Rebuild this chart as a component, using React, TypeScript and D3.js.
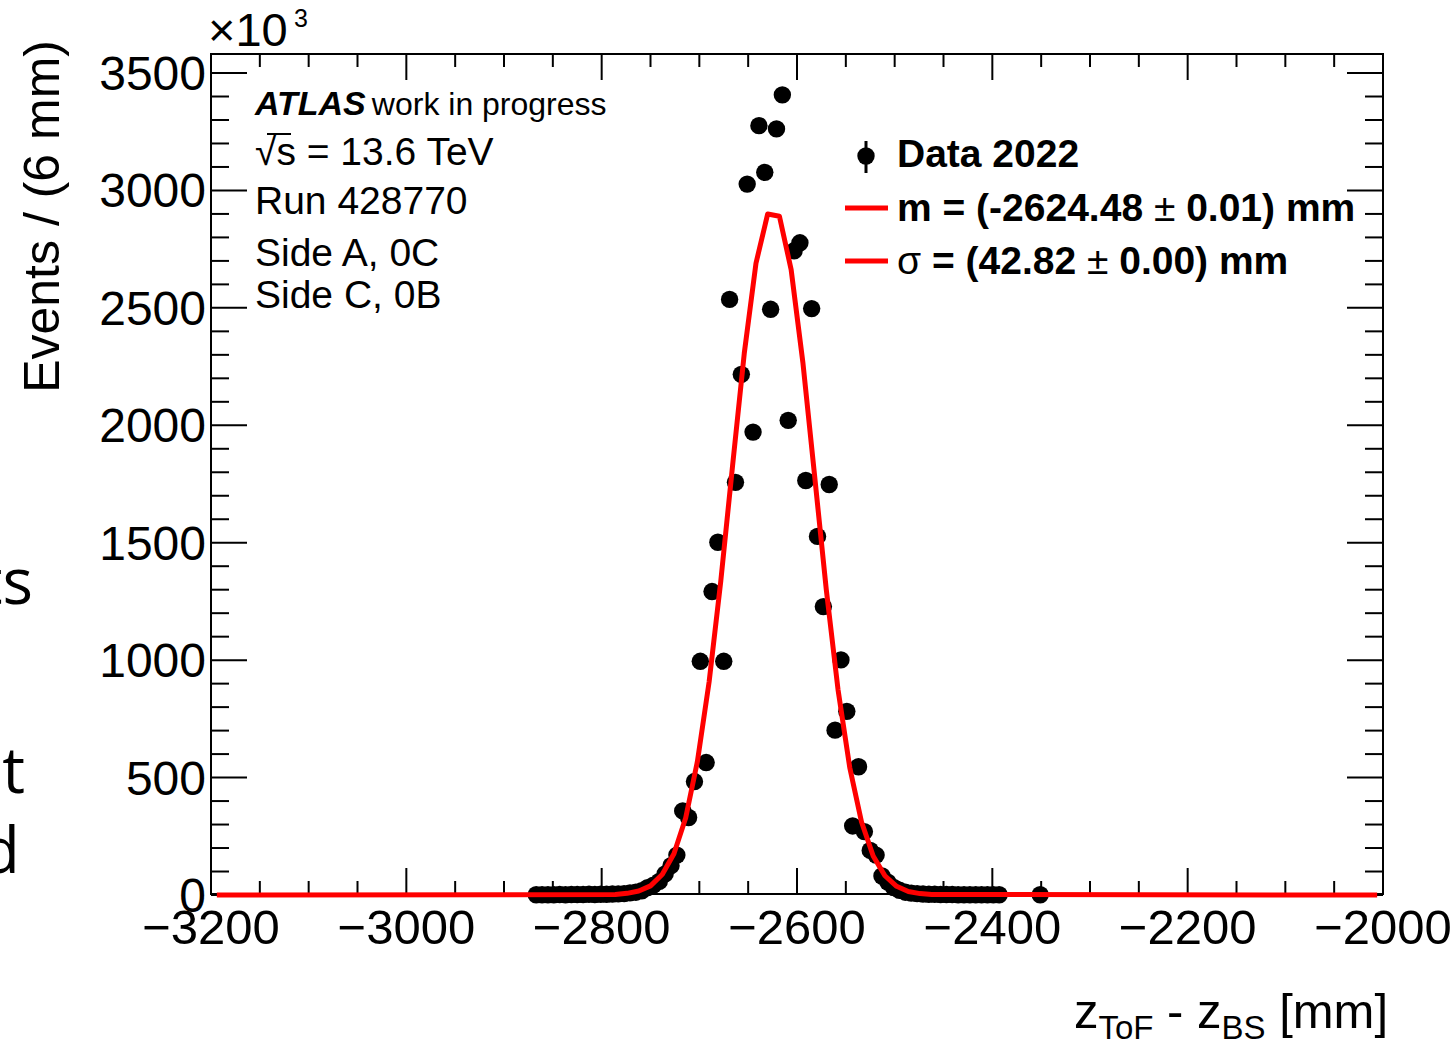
import React from "react";
import * as d3 from "d3";

// ---- data (counts in units of 10^3, 6 mm bins) ----
const binStart = -2867; // centre of first drawn bin
const binWidth = 6;
const counts = [
  1, 1, 1, 1, 2, 1, 2, 2, 2, 3,
  2, 3, 3, 4, 5, 6, 9, 12, 18, 31,
  42, 58, 90, 125, 170, 358, 330, 483, 995, 564,
  1292, 1502, 995, 2536, 1757, 2217, 3027, 1971, 3276, 3077,
  2494, 3262, 3407, 2021, 2743, 2777, 1765, 2497, 1527, 1228,
  1748, 702, 1001, 782, 294, 546, 270, 190, 170, 81,
  55, 32, 20, 12, 8, 6, 4, 3, 3, 2,
  2, 2, 1, 1, 1, 1, 1, 1, 1, 1,
];
const extraX = [-2351];
const extraY = [1];

// fit curve vertices
const fitX = [-3194, -2786, -2774, -2762, -2750, -2738, -2726, -2714, -2702, -2690, -2678, -2666, -2654, -2642, -2630,
  -2618, -2606, -2594, -2582, -2570, -2558, -2546, -2534, -2522, -2510, -2498, -2486, -2474, -2462, -2006];
const fitY = [0, 2, 7, 17, 39, 87, 176, 328, 568, 907, 1338, 1827, 2306, 2690, 2900,
  2890, 2663, 2268, 1786, 1300, 875, 543, 312, 166, 82, 37, 15, 6, 2, 0];

const xTicksMajor = [-3200, -3000, -2800, -2600, -2400, -2200, -2000];
const xTickLabels = ["\u22123200", "\u22123000", "\u22122800", "\u22122600", "\u22122400", "\u22122200", "\u22122000"];
const yTicksMajor = [0, 500, 1000, 1500, 2000, 2500, 3000, 3500];
const yTickLabels = ["0", "500", "1000", "1500", "2000", "2500", "3000", "3500"];

const W = 1455, H = 1041;
const FL = 211, FR = 1383, FT = 54, FB = 894;
const FONT = "'Liberation Sans', Arial, Helvetica, sans-serif";

export default function App() {
  const x = d3.scaleLinear().domain([-3200, -2000]).range([FL, FR]);
  const y = d3.scaleLinear().domain([0, 3581]).range([895, FT]);

  const points = counts.map((c, i) => ({ x: binStart + i * binWidth, y: c }))
    .concat(extraX.map((v, i) => ({ x: v, y: extraY[i] })));

  const line = d3.line<number>().x((d, i) => x(fitX[i])).y((d) => y(d));
  const fitPath = line(fitY) || "";

  const xMinor = d3.range(-3200, -2000 + 1, 50).filter((v) => !xTicksMajor.includes(v));
  const yMinor = d3.range(0, 3581, 100).filter((v) => v % 500 !== 0);

  const sk = "#000";
  return (
    <svg width={W} height={H} style={{ position: "absolute", left: 0, top: 0, background: "#fff" }}
      fontFamily={FONT}>
      <rect x={0} y={0} width={W} height={H} fill="#fff" />
      {/* slide text fragments at the left */}
      <g fontFamily="'Open Sans', 'Noto Sans', sans-serif" fontSize={64} fill="#000" textAnchor="end">
        <text x={33} y={604}>ts</text>
        <text x={25} y={793}>t</text>
        <text x={20} y={873}>d</text>
      </g>

      {/* frame */}
      <rect x={FL} y={FT} width={FR - FL} height={FB - FT} fill="none" stroke={sk} strokeWidth={2} />

      {/* x ticks bottom & top */}
      {xTicksMajor.map((v) => (
        <g key={"xm" + v}>
          <line x1={x(v)} x2={x(v)} y1={FB} y2={FB - 26} stroke={sk} strokeWidth={2} />
          <line x1={x(v)} x2={x(v)} y1={FT} y2={FT + 26} stroke={sk} strokeWidth={2} />
        </g>
      ))}
      {xMinor.map((v) => (
        <g key={"xn" + v}>
          <line x1={x(v)} x2={x(v)} y1={FB} y2={FB - 13} stroke={sk} strokeWidth={2} />
          <line x1={x(v)} x2={x(v)} y1={FT} y2={FT + 13} stroke={sk} strokeWidth={2} />
        </g>
      ))}
      {/* y ticks left & right */}
      {yTicksMajor.map((v) => (
        <g key={"ym" + v}>
          <line x1={FL} x2={FL + 36} y1={y(v)} y2={y(v)} stroke={sk} strokeWidth={2} />
          <line x1={FR} x2={FR - 36} y1={y(v)} y2={y(v)} stroke={sk} strokeWidth={2} />
        </g>
      ))}
      {yMinor.map((v) => (
        <g key={"yn" + v}>
          <line x1={FL} x2={FL + 18} y1={y(v)} y2={y(v)} stroke={sk} strokeWidth={2} />
          <line x1={FR} x2={FR - 18} y1={y(v)} y2={y(v)} stroke={sk} strokeWidth={2} />
        </g>
      ))}

      {/* tick labels */}
      {xTicksMajor.map((v, i) => (
        <text key={"xl" + v} x={x(v)} y={944} fontSize={49} textAnchor="middle" fill="#000">{xTickLabels[i]}</text>
      ))}
      {yTicksMajor.map((v, i) => (
        <text key={"yl" + v} x={206} y={y(v) + 17} fontSize={48} textAnchor="end" fill="#000">{yTickLabels[i]}</text>
      ))}
      <text x={208} y={46} fontSize={47} fill="#000">{"\u00d710"}</text>
      <text x={294} y={27} fontSize={25} fill="#000">3</text>

      {/* axis titles */}
      <text transform="translate(59,40) rotate(-90)" fontSize={50} textAnchor="end" fill="#000">Events / (6 mm)</text>
      <text x={1388} y={1028} fontSize={49} textAnchor="end" fill="#000">
        z<tspan fontSize={33} dy={11}>ToF</tspan><tspan dy={-11}> - z</tspan><tspan fontSize={33} dy={11}>BS</tspan><tspan dy={-11}> [mm]</tspan>
      </text>

      {/* data points */}
      {points.map((p, i) => (
        <circle key={"p" + i} cx={x(p.x)} cy={y(p.y)} r={8.7} fill="#000" />
      ))}

      {/* fit */}
      <path d={fitPath} fill="none" stroke="#ff0000" strokeWidth={5} strokeLinejoin="round" />

      {/* ATLAS label */}
      <text x={255} y={115} fill="#000">
        <tspan fontSize={34} fontWeight="bold" fontStyle="italic">ATLAS</tspan>
        <tspan fontSize={32} dx={6}>work in progress</tspan>
      </text>
      <text x={255} y={165} fontSize={39} fill="#000">{"\u221as = 13.6 TeV"}</text>
      <line x1={267} x2={291} y1={134} y2={134} stroke="#000" strokeWidth={2} />
      <text x={255} y={214} fontSize={39} fill="#000">Run 428770</text>
      <text x={255} y={266} fontSize={39} fill="#000">Side A, 0C</text>
      <text x={255} y={308} fontSize={39} fill="#000">Side C, 0B</text>

      {/* legend */}
      <line x1={866} x2={866} y1={141} y2={173} stroke="#000" strokeWidth={3} />
      <circle cx={866} cy={156} r={8.7} fill="#000" />
      <text x={897} y={167} fontSize={39} fontWeight="bold" fill="#000">Data 2022</text>
      <line x1={845} x2={888} y1={208} y2={208} stroke="#ff0000" strokeWidth={5} />
      <text x={897} y={221} fontSize={39} fontWeight="bold" fill="#000">
        m = (-2624.48<tspan fontWeight="normal">{" \u00b1 "}</tspan>0.01) mm
      </text>
      <line x1={845} x2={888} y1={261} y2={261} stroke="#ff0000" strokeWidth={5} />
      <text x={897} y={274} fontSize={39} fontWeight="bold" fill="#000">
        <tspan fontWeight="normal">{"\u03c3"}</tspan> = (42.82<tspan fontWeight="normal">{" \u00b1 "}</tspan>0.00) mm
      </text>
    </svg>
  );
}
